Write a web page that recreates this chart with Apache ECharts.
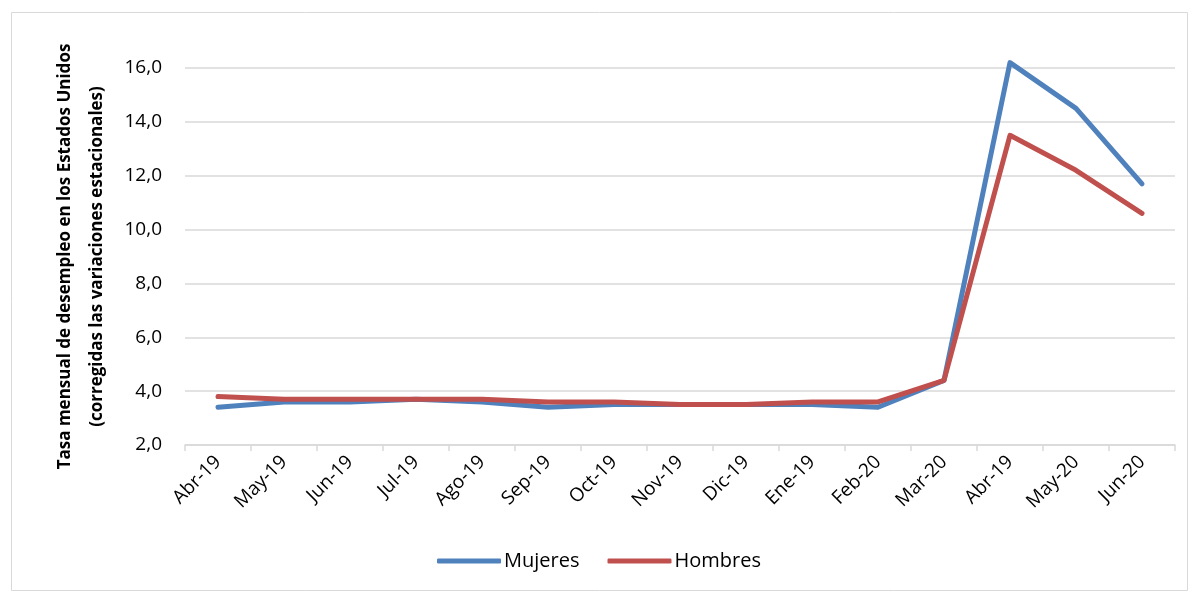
<!DOCTYPE html>
<html><head><meta charset="utf-8">
<script src="https://cdn.jsdelivr.net/npm/echarts@6/dist/echarts.min.js"></script>
<style>html,body{margin:0;padding:0;background:#fff}#c{width:1198px;height:594px}</style>
</head><body><div id="c"></div>
<script>
const categories = ['Abr-19','May-19','Jun-19','Jul-19','Ago-19','Sep-19','Oct-19','Nov-19','Dic-19','Ene-19','Feb-20','Mar-20','Abr-19','May-20','Jun-20'];
const mujeres = [3.4,3.6,3.6,3.7,3.6,3.4,3.5,3.5,3.5,3.5,3.4,4.4,16.2,14.5,11.7];
const hombres = [3.8,3.7,3.7,3.7,3.7,3.6,3.6,3.5,3.5,3.6,3.6,4.4,13.5,12.2,10.6];
const yName = 'Tasa mensual de desempleo en los Estados Unidos\n(corregidas las variaciones estacionales)';
const font = 'Open Sans, Noto Sans, sans-serif';
const chart = echarts.init(document.getElementById('c'), null, {renderer:'canvas'});
chart.setOption({
  animation:false,
  textStyle:{fontFamily:font},
  graphic:[{type:'rect',shape:{x:11.5,y:12.5,width:1176,height:578},style:{fill:'none',stroke:'#d9d9d9',lineWidth:1},silent:true,z:-1}],
  grid:{left:185,right:23,top:68,bottom:149,containLabel:false},
  legend:{bottom:18,left:'center',itemWidth:64,itemHeight:5,itemGap:28,icon:'roundRect',
    textStyle:{fontSize:20,color:'#000',fontFamily:font,padding:[0,0,0,-2]},
    data:['Mujeres','Hombres']},
  xAxis:{type:'category',data:categories,boundaryGap:true,
    axisLine:{lineStyle:{color:'#d9d9d9',width:1.5}},
    axisTick:{show:true,length:6,lineStyle:{color:'#d9d9d9',width:1.5}},
    axisLabel:{rotate:45,interval:0,fontSize:19,color:'#000',margin:14,fontFamily:font}},
  yAxis:{type:'value',min:2,max:16,interval:2,
    name:yName,nameLocation:'middle',nameGap:72,nameRotate:90,
    nameTextStyle:{fontSize:17,fontWeight:'bold',color:'#000',lineHeight:32,fontFamily:font},
    axisLine:{show:false},axisTick:{show:false},
    splitLine:{lineStyle:{color:'#d9d9d9',width:1.5}},
    axisLabel:{fontSize:19,color:'#000',margin:23,fontFamily:font,formatter:v=>v.toFixed(1).replace('.',',')}},
  series:[
    {name:'Mujeres',type:'line',data:mujeres,symbol:'none',clip:false,lineStyle:{color:'#4f81bd',width:5,cap:'round',join:'round'},itemStyle:{color:'#4f81bd'}},
    {name:'Hombres',type:'line',data:hombres,symbol:'none',clip:false,lineStyle:{color:'#c0504d',width:5,cap:'round',join:'round'},itemStyle:{color:'#c0504d'}}
  ]
});
</script></body></html>
